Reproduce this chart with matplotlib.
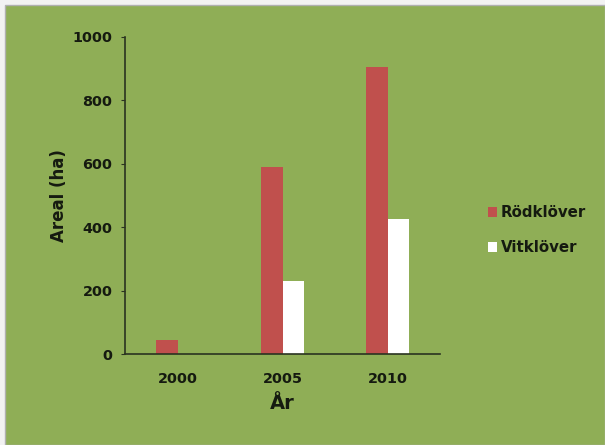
import matplotlib
matplotlib.use("Agg")
import matplotlib.pyplot as plt
from matplotlib.patches import Rectangle
import numpy as np

years = ["2000", "2005", "2010"]
rodklover = [45, 590, 905]
vitklover = [0, 230, 425]
yticks = [0, 200, 400, 600, 800, 1000]

bg = "#8fae56"
red = "#c0504d"
white = "#ffffff"
txt = "#151a10"

plt.rcParams['font.family'] = ['DejaVu Sans']
plt.rcParams['font.weight'] = 'bold'

fig = plt.figure(figsize=(6.05, 4.45), dpi=100)
fig.patch.set_facecolor("#f2f2f2")
fig.patches.append(Rectangle((5/605, 0), 1 - 5/605, 1 - 5/445, transform=fig.transFigure,
                             facecolor=bg, edgecolor="#b0b0b0", linewidth=1.0, zorder=-10))

ax = fig.add_axes([125/605, 1 - 354/445, 315/605, (354 - 37)/445])
ax.set_facecolor("none")
x = np.arange(len(years))
w = 0.205
ax.bar(x - w/2, rodklover, w, color=red, label="Rödklöver")
ax.bar(x + w/2, vitklover, w, color=white, label="Vitklöver")

ax.set_xlim(-0.5, 2.5)
ax.set_ylim(0, 1000)
ax.set_yticks(yticks)
ax.set_xticks(x)
ax.set_xticklabels(years)
for s in ["top", "right"]:
    ax.spines[s].set_visible(False)
for s in ["left", "bottom"]:
    ax.spines[s].set_color("#2a3320")
    ax.spines[s].set_linewidth(1.2)
ax.tick_params(axis="y", direction="out", length=3, color="#2a3320", labelsize=10.4, pad=6)
ax.tick_params(axis="x", length=0, labelsize=10.4, pad=13)
for lab in ax.get_xticklabels() + ax.get_yticklabels():
    lab.set_fontweight("bold")
    lab.set_color(txt)
ax.set_ylabel("Areal (ha)", fontsize=12, fontweight="bold", color=txt, labelpad=3)
ax.set_xlabel("År", fontsize=14, fontweight="bold", color=txt, labelpad=6)

leg = ax.legend(loc="center left", bbox_to_anchor=(480/605, 1 - 230/445), bbox_transform=fig.transFigure,
                frameon=False, borderpad=0, handlelength=0.6, handleheight=0.67, handletextpad=0.3,
                labelspacing=1.35, prop={"weight": "bold", "size": 10.8})
for t in leg.get_texts():
    t.set_color(txt)

fig.savefig("out.png", dpi=100, facecolor=fig.get_facecolor())
